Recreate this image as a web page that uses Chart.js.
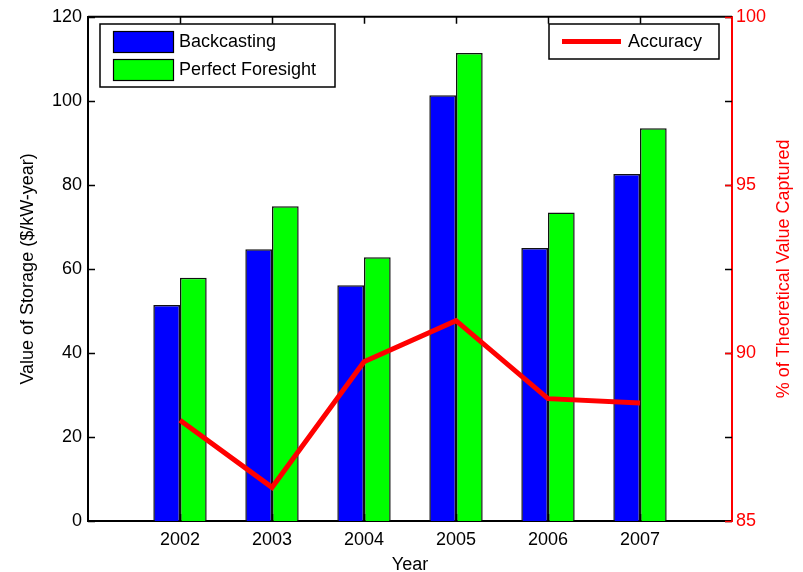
<!DOCTYPE html>
<html>
<head>
<meta charset="utf-8">
<title>Value of Storage</title>
<script src="https://cdn.jsdelivr.net/npm/chart.js@4.4.1/dist/chart.umd.min.js"></script>
<style>
  body { margin: 0; background: #fff; }
  #wrap { width: 803px; height: 572px; }
</style>
</head>
<body>
<div id="wrap"><canvas id="storageChart"></canvas></div>
<script>
// Yearly data
const years = ["2002", "2003", "2004", "2005", "2006", "2007"];
const backcasting = [51.4, 64.7, 56.1, 101.3, 65.0, 82.6];
const perfectForesight = [57.9, 74.9, 62.8, 111.4, 73.4, 93.5];
const accuracy = [88.0, 86.0, 89.74, 90.96, 88.64, 88.51];

// Axis ticks
const storageTicks = [0, 20, 40, 60, 80, 100, 120];
const accuracyTicks = [85, 90, 95, 100];

const FONT = "'Liberation Sans', Arial, sans-serif";
const RED = "#ff0000";

// Empty slot on each side so the years sit one step in from the edges
const pad = (arr) => [null, ...arr, null];
const labels = ["", ...years, " "];

// Draws the boxed frame, inward tick marks, both legends and the right title
const framePlugin = {
  id: "frame",
  afterDraw(chart) {
    const ctx = chart.ctx;
    const { left, right, top, bottom } = chart.chartArea;
    const x = chart.scales.x;
    const y = chart.scales.y;
    const y2 = chart.scales.y2;
    const tick = 7;

    ctx.save();

    // top edge of the box
    ctx.strokeStyle = "#000";
    ctx.lineWidth = 2;
    ctx.beginPath();
    ctx.moveTo(left, top);
    ctx.lineTo(right, top);
    ctx.stroke();

    ctx.lineWidth = 1.5;
    // left axis ticks, mirrored on the right side
    storageTicks.forEach(v => {
      const py = Math.round(y.getPixelForValue(v)) + 0.5;
      ctx.beginPath();
      ctx.moveTo(left, py);
      ctx.lineTo(left + tick, py);
      ctx.moveTo(right - tick, py);
      ctx.lineTo(right, py);
      ctx.stroke();
    });

    // year ticks on bottom and top
    years.forEach((yr, i) => {
      const px = Math.round(x.getPixelForValue(i + 1)) + 0.5;
      ctx.beginPath();
      ctx.moveTo(px, bottom);
      ctx.lineTo(px, bottom - tick);
      ctx.moveTo(px, top);
      ctx.lineTo(px, top + tick);
      ctx.stroke();
    });

    // right axis ticks in red
    ctx.strokeStyle = RED;
    accuracyTicks.forEach(v => {
      const py = Math.round(y2.getPixelForValue(v)) + 0.5;
      ctx.beginPath();
      ctx.moveTo(right - tick, py);
      ctx.lineTo(right, py);
      ctx.stroke();
    });

    // right axis title, reading bottom to top
    ctx.fillStyle = RED;
    ctx.font = "18px " + FONT;
    ctx.textAlign = "center";
    ctx.textBaseline = "middle";
    ctx.translate(784, (top + bottom) / 2);
    ctx.rotate(-Math.PI / 2);
    ctx.fillText("% of Theoretical Value Captured", 0, 0);
    ctx.restore();

    // legends
    const ds = chart.data.datasets;
    const barSets = ds.filter(d => d.type === "bar");
    const lineSet = ds.find(d => d.type === "line");

    ctx.save();
    ctx.font = "18px " + FONT;
    ctx.textBaseline = "middle";
    ctx.textAlign = "left";

    // bar legend box
    ctx.fillStyle = "#fff";
    ctx.fillRect(100, 24, 235, 63);
    ctx.strokeStyle = "#000";
    ctx.lineWidth = 1.5;
    ctx.strokeRect(100, 24, 235, 63);
    barSets.forEach((d, i) => {
      const ry = 31 + i * 28;
      ctx.fillStyle = d.backgroundColor;
      ctx.fillRect(113, ry, 60, 21);
      ctx.lineWidth = 1.2;
      ctx.strokeRect(113.5, ry + 0.5, 60, 21);
      ctx.fillStyle = "#000";
      ctx.fillText(d.label, 179, ry + 11.5);
    });

    // line legend box
    ctx.fillStyle = "#fff";
    ctx.fillRect(549, 24, 170, 35);
    ctx.lineWidth = 1.5;
    ctx.strokeRect(549, 24, 170, 35);
    ctx.strokeStyle = lineSet.borderColor;
    ctx.lineWidth = lineSet.borderWidth;
    ctx.beginPath();
    ctx.moveTo(562, 41.5);
    ctx.lineTo(621, 41.5);
    ctx.stroke();
    ctx.fillStyle = "#000";
    ctx.fillText(lineSet.label, 628, 42);
    ctx.restore();
  }
};

document.addEventListener("DOMContentLoaded", function () {
  const ctx = document.getElementById("storageChart").getContext("2d");

  new Chart(ctx, {
    data: {
      labels: labels,
      datasets: [
        {
          type: "line",
          label: "Accuracy",
          data: pad(accuracy),
          yAxisID: "y2",
          borderColor: RED,
          borderWidth: 5,
          pointRadius: 0,
          tension: 0,
          order: 0
        },
        {
          type: "bar",
          label: "Backcasting",
          data: pad(backcasting),
          yAxisID: "y",
          backgroundColor: "#0000ff",
          borderColor: "#111",
          borderWidth: 1.5,
          categoryPercentage: 0.58,
          barPercentage: 1,
          order: 1
        },
        {
          type: "bar",
          label: "Perfect Foresight",
          data: pad(perfectForesight),
          yAxisID: "y",
          backgroundColor: "#00ff00",
          borderColor: "#111",
          borderWidth: 1.5,
          categoryPercentage: 0.58,
          barPercentage: 1,
          order: 1
        }
      ]
    },
    options: {
      responsive: true,
      maintainAspectRatio: false,
      animation: false,
      layout: { padding: { top: 14, left: 0, right: 0, bottom: 0 } },
      plugins: {
        legend: { display: false },
        tooltip: { enabled: false }
      },
      scales: {
        x: {
          type: "category",
          offset: false,
          grid: { display: false, drawTicks: false },
          border: { display: true, color: "#000", width: 2 },
          ticks: {
            color: "#000",
            font: { family: FONT, size: 18 },
            padding: 8,
            maxRotation: 0,
            autoSkip: false
          },
          title: {
            display: true,
            text: "Year",
            color: "#000",
            font: { family: FONT, size: 18, lineHeight: 1 },
            padding: { top: 0, bottom: -2 }
          },
          afterFit(scale) { scale.height = 51; }
        },
        y: {
          position: "left",
          min: 0,
          max: 120,
          grid: { display: false, drawTicks: false },
          border: { display: true, color: "#000", width: 2 },
          ticks: {
            stepSize: 20,
            color: "#000",
            font: { family: FONT, size: 18 },
            padding: 6
          },
          title: {
            display: true,
            text: "Value of Storage ($/kW-year)",
            color: "#000",
            font: { family: FONT, size: 18, lineHeight: 1 },
            padding: { top: 19, bottom: 0 }
          },
          afterFit(scale) { scale.width = 88; }
        },
        y2: {
          position: "right",
          min: 85,
          max: 100,
          grid: { display: false, drawTicks: false },
          border: { display: true, color: RED, width: 2 },
          ticks: {
            stepSize: 5,
            color: RED,
            font: { family: FONT, size: 18 },
            padding: 4
          },
          afterFit(scale) { scale.width = 71; }
        }
      }
    },
    plugins: [framePlugin]
  });
});
</script>
</body>
</html>
